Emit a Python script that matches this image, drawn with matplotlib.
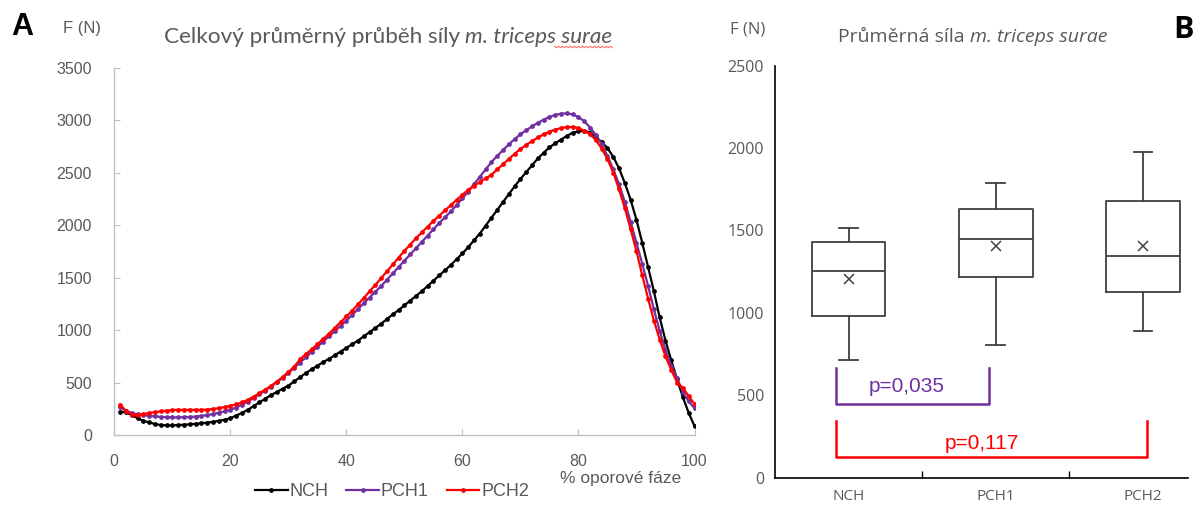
import numpy as np
import matplotlib
matplotlib.use("Agg")
import matplotlib.pyplot as plt
from matplotlib.lines import Line2D

# ---------------- data ----------------
phase = list(range(1, 101))

nch = [222, 215, 190, 160, 135, 120, 105, 95, 92, 92,
       95, 98, 102, 107, 112, 118, 125, 135, 145, 160,
       185, 210, 240, 275, 310, 345, 380, 410, 440, 470,
       510, 550, 590, 625, 660, 695, 725, 760, 795, 830,
       865, 900, 940, 980, 1020, 1060, 1105, 1150, 1190, 1235,
       1280, 1325, 1370, 1420, 1470, 1520, 1570, 1620, 1675, 1730,
       1790, 1855, 1920, 1995, 2070, 2145, 2220, 2295, 2370, 2440,
       2505, 2570, 2635, 2690, 2740, 2780, 2815, 2850, 2880, 2895,
       2900, 2880, 2840, 2790, 2735, 2650, 2540, 2400, 2240, 2050,
       1830, 1600, 1370, 1120, 900, 710, 530, 360, 210, 85]

pch1 = [265, 232, 210, 198, 190, 183, 177, 173, 170, 168,
        168, 170, 172, 176, 182, 190, 200, 212, 226, 242,
        262, 288, 318, 352, 388, 424, 462, 502, 545, 590,
        640, 690, 740, 790, 840, 890, 940, 990, 1040, 1090,
        1145, 1200, 1255, 1310, 1365, 1420, 1480, 1540, 1600, 1660,
        1720, 1780, 1840, 1900, 1960, 2020, 2075, 2130, 2190, 2255,
        2320, 2390, 2460, 2530, 2600, 2660, 2715, 2770, 2820, 2865,
        2905, 2940, 2975, 3005, 3030, 3050, 3062, 3065, 3055, 3030,
        2990, 2930, 2860, 2770, 2660, 2530, 2390, 2220, 2030, 1830,
        1630, 1420, 1200, 990, 810, 660, 540, 410, 320, 255]

pch2 = [290, 230, 195, 190, 200, 210, 218, 225, 232, 238,
        240, 240, 240, 240, 240, 242, 248, 256, 266, 278,
        292, 310, 335, 365, 398, 432, 468, 508, 552, 600,
        650, 720, 770, 815, 865, 915, 965, 1020, 1075, 1130,
        1185, 1245, 1305, 1370, 1430, 1495, 1560, 1625, 1690, 1755,
        1815, 1875, 1930, 1985, 2040, 2090, 2140, 2190, 2240, 2290,
        2335, 2375, 2410, 2445, 2480, 2530, 2580, 2630, 2680, 2725,
        2765, 2800, 2835, 2865, 2890, 2910, 2925, 2935, 2935, 2925,
        2900, 2865, 2810, 2730, 2630, 2500, 2340, 2160, 1960, 1750,
        1520, 1300, 1090, 910, 750, 620, 500, 450, 370, 295]

groups = ["NCH", "PCH1", "PCH2"]
box_whislo = [717, 804, 893]
box_q1 = [982, 1218, 1127]
box_med = [1253, 1448, 1348]
box_q3 = [1430, 1630, 1677]
box_whishi = [1516, 1788, 1978]
box_mean = [1204, 1404, 1404]

p_labels = ["p=0,035", "p=0,117"]

left_xticks = [0, 20, 40, 60, 80, 100]
left_yticks = [0, 500, 1000, 1500, 2000, 2500, 3000, 3500]
right_yticks = [0, 500, 1000, 1500, 2000, 2500]

# ---------------- style ----------------
GRAY = "#595959"
C_NCH = "#000000"
C_P1 = "#7030A0"
C_P2 = "#FF0000"

W, H = 1198, 505
fig = plt.figure(figsize=(W / 100, H / 100), dpi=100)
renderer = fig.canvas.get_renderer()


def fx(px):
    return px / W


def fy(py):
    return 1 - py / H


def two_part_title(cx, cy, normal, italic, size, family):
    """Centered title made of a regular part followed by an italic part."""
    t1 = fig.text(0, fy(cy), normal, ha="left", va="center", fontsize=size, color=GRAY,
                  family=family)
    t2 = fig.text(0, fy(cy), italic, ha="left", va="center", fontsize=size, color=GRAY,
                  family=family, style="italic")
    w1 = t1.get_window_extent(renderer).width
    w2 = t2.get_window_extent(renderer).width
    total = w1 + w2
    x0 = cx - total / 2
    t1.set_x(fx(x0))
    t2.set_x(fx(x0 + w1))
    return x0 + w1, x0 + total


# ---------------- panel A ----------------
axA = fig.add_axes([fx(114.3), fy(435), fx(694.5) - fx(114.3), fy(67.7) - fy(435)])
for name, vals, col in [("NCH", nch, C_NCH), ("PCH1", pch1, C_P1), ("PCH2", pch2, C_P2)]:
    axA.plot(phase, vals, color=col, lw=1.6, marker="o", ms=2.4, label=name)
axA.set_xlim(0, 100)
axA.set_ylim(0, 3500)
axA.set_xticks(left_xticks)
axA.set_yticks(left_yticks)
for s in ["top", "right"]:
    axA.spines[s].set_visible(False)
for s in ["left", "bottom"]:
    axA.spines[s].set_color("#bfbfbf")
    axA.spines[s].set_linewidth(1.0)
axA.tick_params(direction="in", length=4, color="#bfbfbf", labelcolor=GRAY,
                labelsize=11.5, pad=14)
axA.tick_params(axis="y", pad=16)
for lab in axA.get_xticklabels() + axA.get_yticklabels():
    lab.set_family("Liberation Sans")

leg = axA.legend(loc="center", bbox_to_anchor=(fx(392), fy(492)), bbox_transform=fig.transFigure,
                 ncol=3, frameon=False, handlelength=1.8, handletextpad=0.1, columnspacing=1.0,
                 prop={"family": "Liberation Sans", "size": 13})
for t in leg.get_texts():
    t.set_color(GRAY)

fig.text(fx(621), fy(478), "% oporové fáze", ha="center", va="center", color=GRAY,
         fontsize=12.5, family="Liberation Sans")
fig.text(fx(22), fy(27), "A", ha="center", va="center", fontsize=22, fontweight="bold",
         family="Liberation Sans", color="black")
fig.text(fx(82), fy(28), "F (N)", ha="center", va="center", fontsize=12, color=GRAY,
         family="Liberation Sans")
it_start, it_end = two_part_title(388, 37, "Celkový průměrný průběh síly ", "m. triceps surae",
                                  16.2, "Lato")
# spell-check squiggle under "surae"
sq_x = np.arange(it_end - 58, it_end + 1, 2.0)
sq_y = 47 + np.where(np.arange(len(sq_x)) % 2 == 0, -0.8, 0.8)
fig.add_artist(Line2D(fx(sq_x), fy(sq_y), color="#ff6060", lw=0.7, transform=fig.transFigure))

# ---------------- panel B ----------------
axB = fig.add_axes([fx(775), fy(477.7), fx(1188) - fx(775), fy(65.7) - fy(477.7)])
stats = []
for i, g in enumerate(groups):
    stats.append(dict(label=g, whislo=box_whislo[i], q1=box_q1[i], med=box_med[i],
                      q3=box_q3[i], whishi=box_whishi[i], mean=box_mean[i], fliers=[]))
edge = "#404040"
axB.bxp(stats, positions=[1, 2, 3], widths=0.5, capwidths=0.127, showmeans=True,
        showfliers=False,
        boxprops=dict(color=edge, lw=1.3),
        whiskerprops=dict(color=edge, lw=1.3),
        capprops=dict(color=edge, lw=1.3),
        medianprops=dict(color=edge, lw=1.3),
        meanprops=dict(marker="x", markeredgecolor=edge, markersize=6.5, markeredgewidth=1.1))
axB.set_xlim(0.5, 0.5 + (1188 - 775) / 147.2)
axB.set_ylim(0, 2500)
axB.set_yticks(right_yticks)
axB.set_xticks([1, 2, 3])
axB.set_xticklabels(groups)
axB.set_xticks([1.5, 2.5], minor=True)
axB.tick_params(axis="x", which="major", length=0, pad=8, labelcolor=GRAY, labelsize=11)
axB.tick_params(axis="x", which="minor", direction="in", length=5, color="black", width=1)
axB.tick_params(axis="y", length=0, pad=8, labelcolor=GRAY, labelsize=11.5)
for lab in axB.get_xticklabels() + axB.get_yticklabels():
    lab.set_family("Open Sans")
for s in ["top", "right"]:
    axB.spines[s].set_visible(False)
for s in ["left", "bottom"]:
    axB.spines[s].set_color("black")
    axB.spines[s].set_linewidth(1.2)

# significance brackets
xl = 0.912
axB.plot([xl, xl, 1.956, 1.956], [663, 450, 450, 663], color=C_P1, lw=1.8)
axB.plot([xl, xl, 3.03, 3.03], [343, 127, 127, 343], color=C_P2, lw=1.8)
axB.text(1.396, 553, p_labels[0], color=C_P1, ha="center", va="center", fontsize=15,
         family="Liberation Sans")
axB.text(1.906, 210, p_labels[1], color=C_P2, ha="center", va="center", fontsize=15,
         family="Liberation Sans")

fig.text(fx(748), fy(30), "F (N)", ha="center", va="center", fontsize=12, color=GRAY,
         family="Open Sans")
two_part_title(973, 37, "Průměrná síla ", "m. triceps surae", 14, "Open Sans")
fig.text(fx(1183), fy(30), "B", ha="center", va="center", fontsize=22, fontweight="bold",
         family="Open Sans", color="black")

fig.savefig("out.png", dpi=100)
